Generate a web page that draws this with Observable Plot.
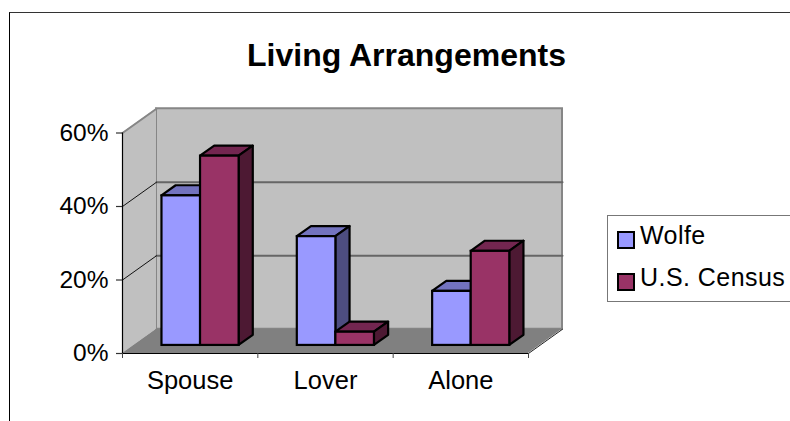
<!DOCTYPE html>
<html><head><meta charset="utf-8">
<style>
html,body{margin:0;padding:0;background:#fff;overflow:hidden}
#wrap{position:relative;width:790px;height:421px;font-family:"Liberation Sans",Arial,sans-serif}
#frame{position:absolute;left:9px;top:12px;right:-5px;bottom:-5px;border-left:1.5px solid #000;border-top:1.5px solid #333}
#chart{position:absolute;left:0;top:0}
#chart svg{background:transparent;display:block}
#legend{position:absolute;left:607px;top:215px;width:190px;height:85px;background:#fff;border:1px solid #777;box-sizing:content-box}
.item{position:absolute;left:9px;display:flex;align-items:center;font-size:25px;letter-spacing:.45px;color:#000;white-space:nowrap}
.sw{width:14px;height:14px;border:2px solid #000;margin-right:5px;margin-top:8px}
</style>
<script src="https://cdn.jsdelivr.net/npm/d3@7"></script>
<script src="https://cdn.jsdelivr.net/npm/@observablehq/plot@0.6"></script>
</head><body>
<div id="wrap"><div id="frame"></div><div id="chart"></div><div id="legend"></div></div>
<script>
const categories = ["Spouse", "Lover", "Alone"];
const seriesNames = ["Wolfe", "U.S. Census"];
const wolfe = [40.7, 29.6, 14.7];
const census = [51.5, 3.6, 25.6];
const yTicks = [0, 20, 40, 60];
const frontColors = ["#9999FF", "#993366"];
const topColors = ["#7373BF", "#732650"];
const sideColors = ["#4D4D80", "#4D1933"];

// oblique projection of the 3-D box, expressed in scale units
const depthX = 0.2512, depthY = 6.6;
const px = (u, d) => u + d * depthX;
const py = (v, d) => v + d * depthY;
const barNear = 0.333, barFar = 0.75, slotGap = 0.208, barW = 0.285;
const nCat = categories.length, yMax = 60;

const leftWall = [{x: px(0,0), y1: py(0,0), y2: py(yMax,0)}, {x: px(0,1), y1: py(0,1), y2: py(yMax,1)}];
const floor = [{y: py(0,0), x1: px(0,0), x2: px(nCat,0)}, {y: py(0,1), x1: px(0,1), x2: px(nCat,1)}];
const backGrid = yTicks.slice(1, -1).flatMap(v => [{g: v, x: px(0,1), y: py(v,1)}, {g: v, x: px(nCat,1), y: py(v,1)}]);
const sideGrid = yTicks.slice(1, -1).flatMap(v => [{g: v, x: px(0,0), y: py(v,0)}, {g: v, x: px(0,1), y: py(v,1)}]);
const topEdge = [{x: px(0,0), y: py(yMax,0)}, {x: px(0,1), y: py(yMax,1)}];
const rightEdge = [{x: px(nCat,0), y: py(0,0)}, {x: px(nCat,1), y: py(0,1)}];

function barMarks(values, s) {
  const bars = values.map((v, i) => ({i, v, u0: i + slotGap + s * barW, u1: i + slotGap + (s + 1) * barW}));
  const top = bars.flatMap(b => [
    {i: b.i, y: py(b.v, barNear), x1: px(b.u0, barNear), x2: px(b.u1, barNear)},
    {i: b.i, y: py(b.v, barFar), x1: px(b.u0, barFar), x2: px(b.u1, barFar)}]);
  const side = bars.flatMap(b => [
    {i: b.i, x: px(b.u1, barNear), y1: py(0, barNear), y2: py(b.v, barNear)},
    {i: b.i, x: px(b.u1, barFar), y1: py(0, barFar), y2: py(b.v, barFar)}]);
  const sw = 2.2;
  return [
    Plot.area(top, {x1: "x1", x2: "x2", y1: "y", z: "i", fill: topColors[s], stroke: "#000", strokeWidth: sw}),
    Plot.area(side, {x1: "x", y1: "y1", y2: "y2", z: "i", fill: sideColors[s], stroke: "#000", strokeWidth: sw}),
    Plot.rect(bars, {x1: d => px(d.u0, barNear), x2: d => px(d.u1, barNear), y1: py(0, barNear), y2: d => py(d.v, barNear),
      fill: frontColors[s], stroke: "#000", strokeWidth: sw})
  ];
}

const plot = Plot.plot({
  width: 790, height: 421,
  marginLeft: 122, marginRight: 262, marginTop: 132.5, marginBottom: 68,
  style: {background: "transparent", fontFamily: "'Liberation Sans', Arial, sans-serif", overflow: "visible"},
  x: {domain: [0, nCat], axis: null},
  y: {domain: [0, yMax], axis: null},
  marks: [
    Plot.rect([0], {x1: px(0,1), x2: px(nCat,1), y1: py(0,1), y2: py(yMax,1), fill: "#C0C0C0", stroke: "#868686", strokeWidth: 2}),
    Plot.area(leftWall, {x1: "x", y1: "y1", y2: "y2", fill: "#C0C0C0"}),
    Plot.line(topEdge, {x: "x", y: "y", stroke: "#868686", strokeWidth: 2}),
    Plot.area(floor, {x1: "x1", x2: "x2", y1: "y", fill: "#808080"}),
    Plot.line(rightEdge, {x: "x", y: "y", stroke: "#222", strokeWidth: 1}),
    Plot.line(backGrid, {x: "x", y: "y", z: "g", stroke: "#666666", strokeWidth: 2}),
    Plot.line(sideGrid, {x: "x", y: "y", z: "g", stroke: "#111", strokeWidth: 1}),
    ...barMarks(wolfe, 0),
    ...barMarks(census, 1),
    Plot.ruleX([0], {y1: 0, y2: yMax, stroke: "#000", strokeWidth: 1.2}),
    Plot.ruleY([0], {x1: 0, x2: nCat, stroke: "#000", strokeWidth: 1.2}),
    Plot.axisY({ticks: yTicks, tickFormat: d => d + "%", tickSize: 6, tickPadding: 8, fontSize: 24.5, stroke: "#333", strokeWidth: 1.2, fill: "#000", marginLeft: 122}),
    Plot.axisX({ticks: d3.range(nCat + 1), tickFormat: () => "", tickSize: 5, stroke: "#444", strokeWidth: 1}),
    Plot.text(categories, {x: (d, i) => i + 0.5, y: 0, text: d => d, dy: 27, fontSize: 25.5, fill: "#000"}),
    Plot.text(["Living Arrangements"], {frameAnchor: "top", dx: 81, dy: -90, fontSize: 32, fontWeight: "bold", fill: "#000"})
  ]
});
document.getElementById("chart").append(plot);

const legend = document.getElementById("legend");
seriesNames.forEach((name, i) => {
  const it = document.createElement("div");
  it.className = "item";
  it.style.top = (5 + i * 42) + "px";
  const sw = document.createElement("span");
  sw.className = "sw";
  sw.style.background = frontColors[i];
  it.append(sw, document.createTextNode(name));
  legend.append(it);
});
</script>
</body></html>
